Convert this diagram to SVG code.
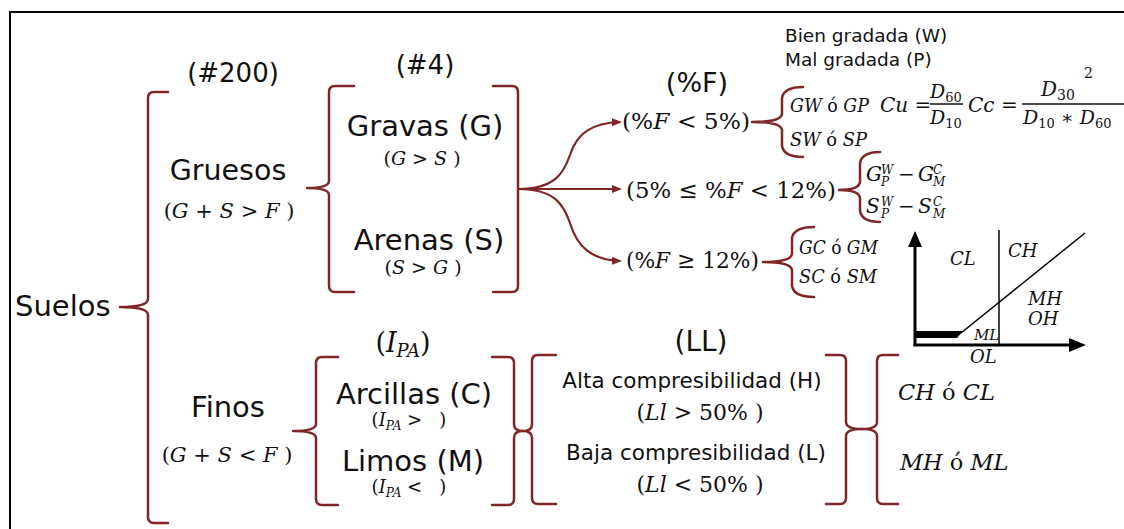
<svg xmlns="http://www.w3.org/2000/svg" width="1124" height="529" viewBox="0 0 1124 529">
<defs>
<style>
.s{font-family:"DejaVu Sans","Liberation Sans",sans-serif;fill:#111}
.m{font-family:"DejaVu Serif","Liberation Serif",serif;fill:#111}
.i{font-style:italic}
.br{fill:none;stroke:#7f2626;stroke-width:2.5;stroke-linejoin:round;stroke-linecap:round}
.ar{fill:none;stroke:#7f2626;stroke-width:2.2}
.ax{stroke:#000;fill:none}
</style>
<marker id="ah" viewBox="0 0 10 10" refX="8" refY="5" markerWidth="10" markerHeight="10" markerUnits="userSpaceOnUse" orient="auto">
<path d="M0,1 L10,5 L0,9 Z" fill="#7f2626"/>
</marker>
</defs>
<rect width="1124" height="529" fill="#fff"/>
<path d="M10,529 V12 H1124" fill="none" stroke="#000" stroke-width="2"/>

<g id="connectors">
<path class="br" d="M168,92 H154 Q148,92 148,98 V299 Q148,307 120,307 Q148,307 148,315 V517 Q148,523 154,523 H168"/>
<path class="br" d="M354,86 H335 Q329,86 329,92 V181 Q329,188 307,188 Q329,188 329,195 V286 Q329,292 335,292 H354"/>
<path class="br" d="M493,86 H512 Q518,86 518,92 V286 Q518,292 512,292 H493"/>
<path class="ar" marker-end="url(#ah)" d="M518,189 C556,189 564,172 570,155 C577,133 592,123 620,122"/>
<path class="ar" marker-end="url(#ah)" d="M518,189 H620"/>
<path class="ar" marker-end="url(#ah)" d="M518,189 C556,189 564,206 570,223 C577,247 592,260 620,261"/>
<path class="br" d="M803,87 Q784,87 782,98 V114 Q781,122 752,122 Q781,122 782,130 V146 Q784,157 803,157"/>
<path class="br" d="M880,152 Q862,152 860,163 V182 Q859,190 839,190 Q859,190 860,198 V211 Q862,222 880,222"/>
<path class="br" d="M814,227 Q794,227 792,238 V254 Q791,262 763,262 Q791,262 792,270 V286 Q794,297 814,297"/>
<path class="br" d="M338,357 H322 Q316,357 316,363 V424 Q316,431 293,431 Q316,431 316,438 V499 Q316,505 322,505 H338"/>
<path class="br" d="M492,357 H508 Q514,357 514,363 V424 Q514,431 523,431 Q514,431 514,438 V499 Q514,505 508,505 H492"/>
<path class="br" d="M556,355 H538 Q532,355 532,361 V424 Q532,431 523,431 Q532,431 532,438 V498 Q532,504 538,504 H556"/>
<path class="br" d="M826,355 H840 Q846,355 846,361 V422 Q846,429 862,429 Q846,429 846,436 V498 Q846,504 840,504 H826"/>
<path class="br" d="M898,355 H883 Q877,355 877,361 V422 Q877,429 862,429 Q877,429 877,436 V498 Q877,504 883,504 H898"/>
</g>

<g id="n-suelos"><text class="s" x="15" y="316" font-size="29">Suelos</text></g>

<g id="n-tamiz200"><text class="s" x="233" y="82" font-size="26" text-anchor="middle">(#200)</text></g>
<g id="n-tamiz4"><text class="s" x="425" y="74" font-size="26" text-anchor="middle">(#4)</text></g>

<g id="n-gruesos">
<text class="s" x="228" y="180" font-size="28.5" text-anchor="middle">Gruesos</text>
<text class="m" x="229" y="218" font-size="21" text-anchor="middle">(<tspan class="i">G</tspan> + <tspan class="i">S</tspan> &gt; <tspan class="i">F</tspan> )</text>
</g>

<g id="n-gravas">
<text class="s" x="425" y="136" font-size="29" text-anchor="middle">Gravas (G)</text>
<text class="m" x="422" y="165" font-size="19" text-anchor="middle">(<tspan class="i">G</tspan> &gt; <tspan class="i">S</tspan> )</text>
</g>

<g id="n-arenas">
<text class="s" x="429" y="250" font-size="29" text-anchor="middle">Arenas (S)</text>
<text class="m" x="423" y="274" font-size="19" text-anchor="middle">(<tspan class="i">S</tspan> &gt; <tspan class="i">G</tspan> )</text>
</g>

<g id="n-finos">
<text class="s" x="228" y="417" font-size="29" text-anchor="middle">Finos</text>
<text class="m" x="227" y="462" font-size="21" text-anchor="middle">(<tspan class="i">G</tspan> + <tspan class="i">S</tspan> &lt; <tspan class="i">F</tspan> )</text>
</g>

<g id="n-ipa">
<text class="m" x="403" y="352" font-size="27" text-anchor="middle">(<tspan class="i">I</tspan><tspan class="i" font-size="18" dy="5">PA</tspan><tspan dy="-5">)</tspan></text>
</g>

<g id="n-arcillas">
<text class="s" x="414" y="404" font-size="29" text-anchor="middle">Arcillas (C)</text>
<text class="m" x="409" y="426" font-size="18" text-anchor="middle">(<tspan class="i">I</tspan><tspan class="i" font-size="12" dy="4">PA</tspan><tspan dy="-4"> &gt;&#160;&#160;&#160;)</tspan></text>
</g>

<g id="n-limos">
<text class="s" x="413" y="471" font-size="29" text-anchor="middle">Limos (M)</text>
<text class="m" x="409" y="493" font-size="18" text-anchor="middle">(<tspan class="i">I</tspan><tspan class="i" font-size="12" dy="4">PA</tspan><tspan dy="-4"> &lt;&#160;&#160;&#160;)</tspan></text>
</g>

<g id="n-pf"><text class="s" x="697" y="92" font-size="27" text-anchor="middle">(%F)</text></g>

<g id="n-gradacion">
<text class="s" x="785" y="42" font-size="18.5">Bien gradada (W)</text>
<text class="s" x="785" y="66" font-size="18.5">Mal gradada (P)</text>
</g>

<g id="n-f5">
<text class="m" x="622" y="129" font-size="23" textLength="128" lengthAdjust="spacingAndGlyphs">(%<tspan class="i">F</tspan> &lt; 5%)</text>
<text class="m i" x="790" y="112" font-size="18" textLength="79" lengthAdjust="spacingAndGlyphs">GW <tspan font-style="normal">ó</tspan> GP</text>
<text class="m i" x="790" y="146" font-size="18" textLength="77" lengthAdjust="spacingAndGlyphs">SW <tspan font-style="normal">ó</tspan> SP</text>
</g>

<g id="n-coef">
<text class="m i" x="880" y="112" font-size="20">Cu <tspan font-style="normal">=</tspan></text>
<line x1="930" y1="104" x2="963" y2="104" stroke="#111" stroke-width="1.3"/>
<text class="m" x="930" y="98" font-size="19"><tspan class="i">D</tspan><tspan font-size="13" dy="4">60</tspan></text>
<text class="m" x="930" y="124" font-size="19"><tspan class="i">D</tspan><tspan font-size="13" dy="4">10</tspan></text>
<text class="m i" x="968" y="112" font-size="20">Cc <tspan font-style="normal">=</tspan></text>
<line x1="1022" y1="104" x2="1124" y2="104" stroke="#111" stroke-width="1.3"/>
<text class="m" x="1041" y="96" font-size="20"><tspan class="i">D</tspan><tspan font-size="14" dy="4">30</tspan></text>
<text class="m" x="1084" y="78" font-size="14">2</text>
<text class="m" x="1023" y="124" font-size="19"><tspan class="i">D</tspan><tspan font-size="13" dy="4">10</tspan><tspan dy="-4"> ∗ </tspan><tspan class="i">D</tspan><tspan font-size="13" dy="4">60</tspan></text>
</g>

<g id="n-f5-12">
<text class="m" x="626" y="198" font-size="23" textLength="210" lengthAdjust="spacingAndGlyphs">(5% ≤ %<tspan class="i">F</tspan> &lt; 12%)</text>
<text class="m i" x="866" y="181" font-size="20">G</text>
<text class="m i" x="881" y="174" font-size="12">W</text>
<text class="m i" x="881" y="186" font-size="12">P</text>
<text class="m" x="898" y="181" font-size="20">−</text>
<text class="m i" x="918" y="181" font-size="20">G</text>
<text class="m i" x="933" y="174" font-size="12">C</text>
<text class="m i" x="933" y="186" font-size="12">M</text>
<text class="m i" x="866" y="213" font-size="20">S</text>
<text class="m i" x="881" y="206" font-size="12">W</text>
<text class="m i" x="881" y="218" font-size="12">P</text>
<text class="m" x="898" y="213" font-size="20">−</text>
<text class="m i" x="918" y="213" font-size="20">S</text>
<text class="m i" x="933" y="206" font-size="12">C</text>
<text class="m i" x="933" y="218" font-size="12">M</text>
</g>

<g id="n-f12">
<text class="m" x="626" y="268" font-size="23" textLength="133" lengthAdjust="spacingAndGlyphs">(%<tspan class="i">F</tspan> ≥ 12%)</text>
<text class="m i" x="799" y="254" font-size="18" textLength="79" lengthAdjust="spacingAndGlyphs">GC <tspan font-style="normal">ó</tspan> GM</text>
<text class="m i" x="799" y="283" font-size="18" textLength="78" lengthAdjust="spacingAndGlyphs">SC <tspan font-style="normal">ó</tspan> SM</text>
</g>

<g id="n-carta">
<line class="ax" x1="915" y1="346" x2="915" y2="245" stroke-width="3"/>
<polygon points="915,231 908,247 922,247" fill="#000"/>
<line class="ax" x1="913.5" y1="345" x2="1071" y2="345" stroke-width="3"/>
<polygon points="1086,345 1069,338 1069,352" fill="#000"/>
<line class="ax" x1="999" y1="230" x2="999" y2="345" stroke-width="1.5"/>
<line class="ax" x1="961" y1="333" x2="1085" y2="233" stroke-width="1.5"/>
<polygon points="915,331 963,331 957,338 915,338" fill="#000"/>
<text class="m i" x="950" y="265" font-size="18">CL</text>
<text class="m i" x="1008" y="257" font-size="18">CH</text>
<text class="m i" x="1028" y="305" font-size="18">MH</text>
<text class="m i" x="1028" y="325" font-size="18">OH</text>
<text class="m i" x="974" y="340" font-size="15">ML</text>
<text class="m i" x="970" y="363" font-size="18">OL</text>
</g>

<g id="n-ll">
<text class="s" x="701" y="351" font-size="28" text-anchor="middle">(LL)</text>
</g>

<g id="n-alta">
<text class="s" x="692" y="388" font-size="21.5" text-anchor="middle">Alta compresibilidad (H)</text>
<text class="m" x="700" y="420" font-size="22" text-anchor="middle">(<tspan class="i">Ll</tspan> &gt; 50% )</text>
</g>

<g id="n-baja">
<text class="s" x="696" y="460" font-size="21.5" text-anchor="middle">Baja compresibilidad (L)</text>
<text class="m" x="700" y="492" font-size="22" text-anchor="middle">(<tspan class="i">Ll</tspan> &lt; 50% )</text>
</g>

<g id="n-resultado">
<text class="m i" x="898" y="400" font-size="22.5">CH <tspan font-style="normal">ó</tspan> CL</text>
<text class="m i" x="900" y="470" font-size="22.5">MH <tspan font-style="normal">ó</tspan> ML</text>
</g>
</svg>
